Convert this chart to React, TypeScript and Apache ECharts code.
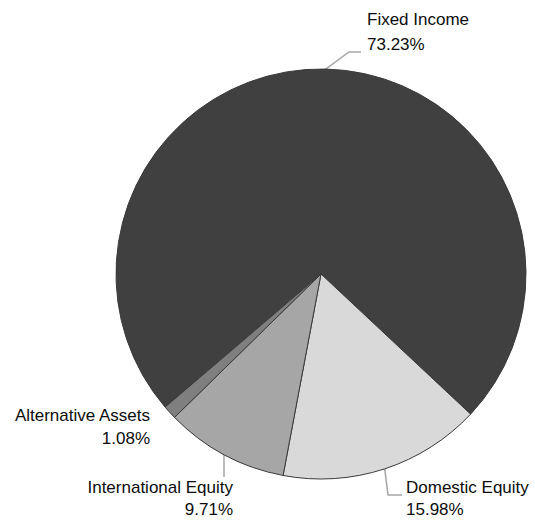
import React, { useEffect, useRef } from "react";
import * as echarts from "echarts";

const categories = ["Fixed Income", "Domestic Equity", "International Equity", "Alternative Assets"];
const values = [73.23, 15.98, 9.71, 1.08];
const colors = ["#404040", "#d9d9d9", "#a6a6a6", "#7f7f7f"];

// label anchor layout (position, alignment) per slice
const labelAnchors = [
  { x: 367, y: 32, align: "left", elbow: [349, 52], end: [361, 52], lh: 25 },
  { x: 406, y: 498, align: "left", elbow: [388, 495], end: [402, 495], lh: 22 },
  { x: 233, y: 498, align: "right", elbow: null, end: [224, 477], lh: 22 },
  { x: 150, y: 427, align: "right", elbow: null, end: null, lh: 23 },
];

export default function App() {
  const ref = useRef<HTMLDivElement>(null);
  useEffect(() => {
    if (!ref.current) return;
    const chart = echarts.init(ref.current, null, { renderer: "svg" });
    chart.setOption({
      animation: false,
      backgroundColor: "#ffffff",
      series: [
        {
          type: "pie",
          center: [321, 274],
          radius: 205,
          startAngle: 220.5,
          clockwise: true,
          avoidLabelOverlap: false,
          itemStyle: { borderColor: "#3a3a3a", borderWidth: 1 },
          label: {
            show: true,
            position: "outside",
            formatter: "{b}\n{c}%",
            fontFamily: "'Liberation Sans', Arial, sans-serif",
            fontSize: 17,
            color: "#0d0d0d",
          },
          labelLine: {
            show: true,
            lineStyle: { color: "#a6a6a6", width: 1.5 },
          },
          labelLayout: (params: any) => {
            const a = labelAnchors[params.dataIndex];
            const p0 = params.labelLinePoints ? params.labelLinePoints[0] : null;
            let pts: number[][] | undefined;
            if (p0 && a.end) {
              if (a.elbow) {
                pts = [p0, a.elbow, a.end];
              } else {
                pts = [[a.end[0], p0[1]], [a.end[0], (p0[1] + a.end[1]) / 2], a.end];
              }
            }
            const out: any = {
              x: a.x,
              y: a.y,
              align: a.align,
              verticalAlign: "middle",
              hideOverlap: false,
            };
            if (pts) out.labelLinePoints = pts;
            return out;
          },
          data: categories.map((name, i) => ({
            name,
            value: values[i],
            itemStyle: { color: colors[i] },
            label: { lineHeight: labelAnchors[i].lh },
            labelLine: { show: labelAnchors[i].end !== null },
          })),
        },
      ],
    });
    return () => chart.dispose();
  }, []);
  return (
    <div
      ref={ref}
      style={{ position: "fixed", left: 0, top: 0, width: 535, height: 521 }}
    />
  );
}
